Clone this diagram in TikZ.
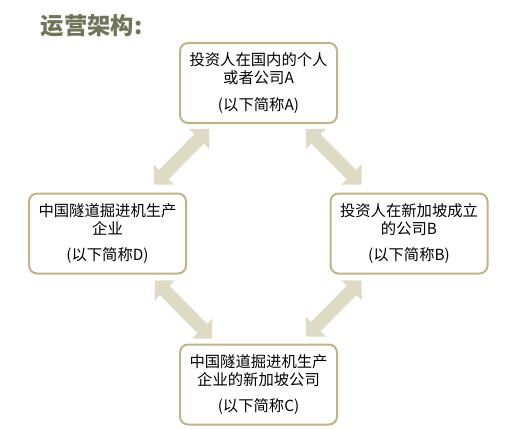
\documentclass[tikz,border=0pt]{standalone}
\usepackage{fontspec}
\setmainfont{Noto Sans CJK SC}
\usepackage{tikz}
\usetikzlibrary{arrows.meta}

\definecolor{titlegreen}{RGB}{112,117,88}
\definecolor{boxline}{RGB}{190,180,135}
\definecolor{arrowfill}{RGB}{222,218,196}

\begin{document}
\begin{tikzpicture}[x=0.75pt,y=0.75pt,yscale=-1,xscale=1,
  box/.style={draw=boxline,line width=1.5pt,rounded corners=6pt,fill=white,
    minimum width=117.75pt,minimum height=60pt,align=center,inner sep=0pt,
    font=\fontsize{11.5}{13.5}\selectfont},
  dblarrow/.style={draw=arrowfill,line width=10pt,
    {Triangle[width=21pt,length=10.5pt]}-{Triangle[width=21pt,length=10.5pt]}}]
\useasboundingbox (0,0) rectangle (506,429);

% Text Node
\draw (36,26) node [anchor=west,text=titlegreen,font=\fontsize{17.5}{20}\bfseries\selectfont] (title) {运营架构:};

%Shape: Rectangle [A]
\node [box] (A) at (258.5,83) {投资人在国内的个人\\或者公司A\\[6.5pt](以下简称A)};
%Shape: Rectangle [B]
\node [box] (B) at (409,233.5) {投资人在新加坡成立\\的公司B\\[6.5pt](以下简称B)};
%Shape: Rectangle [C]
\node [box] (C) at (258.5,384.5) {中国隧道掘进机生产\\企业的新加坡公司\\[6.5pt](以下简称C)};
%Shape: Rectangle [D]
\node [box] (D) at (107.5,233.5) {中国隧道掘进机生产\\企业\\[6.5pt](以下简称D)};

%Double Arrows
\draw [dblarrow] ([shift={(30,5)}]A.south west) -- ([shift={(-33,-8)}]D.north east);
\draw [dblarrow] ([shift={(-32,5)}]A.south east) -- ([shift={(32,-8)}]B.north west);
\draw [dblarrow] ([shift={(-32,6)}]D.south east) -- ([shift={(33,-5)}]C.north west);
\draw [dblarrow] ([shift={(32,6)}]B.south west) -- ([shift={(-32,-7)}]C.north east);

\end{tikzpicture}
\end{document}
